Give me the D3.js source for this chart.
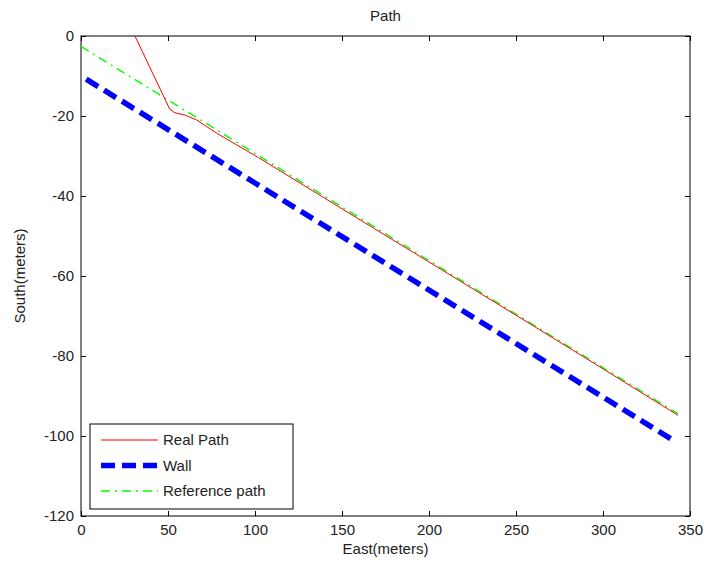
<!DOCTYPE html>
<html>
<head>
<meta charset="utf-8">
<script src="https://cdn.jsdelivr.net/npm/d3@7"></script>
<style>
  body { margin: 0; background: #fff; }
  text { font-family: "Liberation Sans", Arial, sans-serif; fill: #222; }
</style>
</head>
<body>
<script>
// data (east, south)
var realPath = [[31, 0], [51, -18.3], [54, -19.2], [60, -19.8], [66.5, -21], [78, -24.3],
                [102, -30.4], [150, -43.2], [200, -56.5], [250, -69.8], [300, -83.2], [343, -94.8]];
var wall = [[3, -10.8], [342, -101.5]];
var refPath = [[0, -2.6], [343, -94.4]];
var xTicks = [0, 50, 100, 150, 200, 250, 300, 350];
var yTicks = [0, -20, -40, -60, -80, -100, -120];

var W = 724, H = 571;
var m = {left: 81, right: 34, top: 36, bottom: 55};
var fs = "15px";

var svg = d3.select("body").append("svg").attr("width", W).attr("height", H);

var x = d3.scaleLinear().domain([0, 350]).range([m.left, W - m.right]);
var y = d3.scaleLinear().domain([-120, 0]).range([H - m.bottom, m.top]);

// frame
svg.append("rect")
  .attr("x", x(0)).attr("y", y(0))
  .attr("width", x(350) - x(0)).attr("height", y(-120) - y(0))
  .attr("fill", "#fff").attr("stroke", "#000").attr("stroke-width", 1);

var tk = 5;
var fmt = function(d) { return String(d); };  // plain hyphen minus
// inward ticks on all sides
var xa = svg.append("g").attr("transform", "translate(0," + y(-120) + ")")
  .call(d3.axisBottom(x).tickValues(xTicks).tickSize(-tk).tickPadding(8).tickFormat(fmt));
var xt = svg.append("g").attr("transform", "translate(0," + y(0) + ")")
  .call(d3.axisTop(x).tickValues(xTicks).tickSize(-tk).tickFormat(""));
var ya = svg.append("g").attr("transform", "translate(" + x(0) + ",0)")
  .call(d3.axisLeft(y).tickValues(yTicks).tickSize(-tk).tickPadding(7).tickFormat(fmt));
var yr = svg.append("g").attr("transform", "translate(" + x(350) + ",0)")
  .call(d3.axisRight(y).tickValues(yTicks).tickSize(-tk).tickFormat(""));

[xa, xt, ya, yr].forEach(function(g) {
  g.select(".domain").remove();
  g.selectAll("line").attr("stroke", "#000");
  g.selectAll("text").style("font-size", fs).attr("fill", "#222")
   .style("font-family", "Liberation Sans, Arial, sans-serif");
});

var line = d3.line().x(function(d) { return x(d[0]); }).y(function(d) { return y(d[1]); });

svg.append("defs").append("clipPath").attr("id", "clip")
  .append("rect").attr("x", x(0)).attr("y", y(0))
  .attr("width", x(350) - x(0)).attr("height", y(-120) - y(0));

var plot = svg.append("g").attr("clip-path", "url(#clip)");

plot.append("path").datum(wall).attr("d", line)
  .attr("fill", "none").attr("stroke", "#0000ff").attr("stroke-width", 5.5)
  .attr("stroke-dasharray", "14,7");

plot.append("path").datum(refPath).attr("d", line)
  .attr("fill", "none").attr("stroke", "#00ff00").attr("stroke-width", 1.4)
  .attr("stroke-dasharray", "9,5,2,5");

plot.append("path").datum(realPath).attr("d", line)
  .attr("fill", "none").attr("stroke", "#ff0000").attr("stroke-width", 1);

// titles
svg.append("text").attr("x", (x(0) + x(350)) / 2).attr("y", 21)
  .attr("text-anchor", "middle").style("font-size", fs).text("Path");
svg.append("text").attr("x", (x(0) + x(350)) / 2).attr("y", 554)
  .attr("text-anchor", "middle").style("font-size", fs).text("East(meters)");
svg.append("text").attr("transform", "translate(25," + ((y(0) + y(-120)) / 2) + ") rotate(-90)")
  .attr("text-anchor", "middle").style("font-size", fs).text("South(meters)");

// legend
var leg = svg.append("g");
leg.append("rect").attr("x", 90).attr("y", 424).attr("width", 203).attr("height", 85)
  .attr("fill", "#fff").attr("stroke", "#000");
var items = [
  {name: "Real Path", color: "#ff0000", w: 1, dash: null},
  {name: "Wall", color: "#0000ff", w: 5.5, dash: "14,7"},
  {name: "Reference path", color: "#00ff00", w: 1.4, dash: "9,5,2,5"}
];
items.forEach(function(it, i) {
  var yy = 440 + i * 25.5;
  leg.append("line").attr("x1", 101).attr("x2", 158).attr("y1", yy).attr("y2", yy)
    .attr("stroke", it.color).attr("stroke-width", it.w)
    .attr("stroke-dasharray", it.dash);
  leg.append("text").attr("x", 163).attr("y", yy + 5).style("font-size", fs).text(it.name);
});
</script>
</body>
</html>
